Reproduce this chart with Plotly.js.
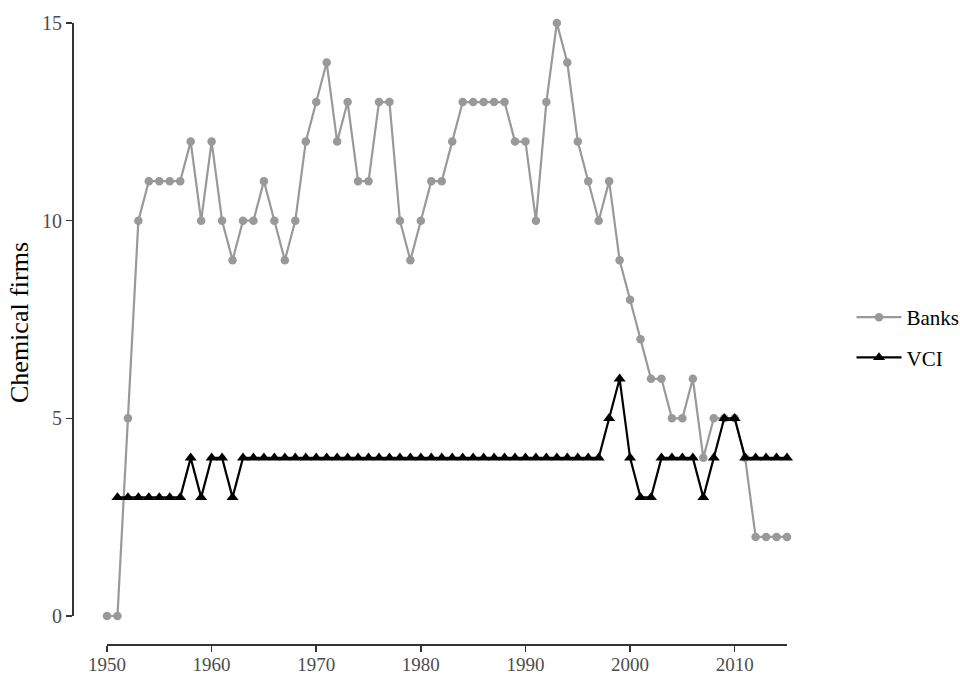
<!DOCTYPE html>
<html>
<head>
<meta charset="utf-8">
<script src="https://cdn.plot.ly/plotly-3.0.1.min.js"></script>
<style>html,body{margin:0;padding:0;background:#fff;}#chart{width:960px;height:675px;}</style>
</head>
<body>
<div id="chart"></div>
<script>
const years = [1950,1951,1952,1953,1954,1955,1956,1957,1958,1959,1960,1961,1962,1963,1964,1965,1966,1967,1968,1969,1970,1971,1972,1973,1974,1975,1976,1977,1978,1979,1980,1981,1982,1983,1984,1985,1986,1987,1988,1989,1990,1991,1992,1993,1994,1995,1996,1997,1998,1999,2000,2001,2002,2003,2004,2005,2006,2007,2008,2009,2010,2011,2012,2013,2014,2015];
const banks = [0,0,5,10,11,11,11,11,12,10,12,10,9,10,10,11,10,9,10,12,13,14,12,13,11,11,13,13,10,9,10,11,11,12,13,13,13,13,13,12,12,10,13,15,14,12,11,10,11,9,8,7,6,6,5,5,6,4,5,5,5,4,2,2,2,2];
const vciYears = years.slice(1);
const vci = [3,3,3,3,3,3,3,4,3,4,4,3,4,4,4,4,4,4,4,4,4,4,4,4,4,4,4,4,4,4,4,4,4,4,4,4,4,4,4,4,4,4,4,4,4,4,4,5,6,4,3,3,4,4,4,4,3,4,5,5,4,4,4,4,4];
const yTicks = [0,5,10,15];
const xTicks = [1950,1960,1970,1980,1990,2000,2010];

const serif = "Liberation Serif, Times New Roman, serif";
const traces = [
  {x: years, y: banks, name: "Banks", type: "scatter", mode: "lines+markers",
   line: {color: "#999999", width: 2.2}, marker: {symbol: "circle", size: 8.5, color: "#999999"},
   legendgroup: "a"},
  {x: vciYears, y: vci, name: "VCI", type: "scatter", mode: "lines+markers",
   line: {color: "#000000", width: 2.2}, marker: {symbol: "triangle-up", size: 10.5, color: "#000000"},
   legendgroup: "b"}
];
const xmin = Math.min(...years), xmax = Math.max(...years);
const layout = {
  width: 960, height: 675,
  margin: {l: 73, r: 139, t: 0, b: 30, autoexpand: false},
  paper_bgcolor: "#ffffff", plot_bgcolor: "#ffffff",
  font: {family: serif, color: "#000"},
  xaxis: {range: [1946.75, 2018.25], showgrid: false, zeroline: false, showline: false,
    tickvals: xTicks, ticks: "outside", ticklen: 6, tickwidth: 1.5, tickcolor: "#333333",
    ticklabelstandoff: -4,
    tickfont: {family: serif, size: 19, color: "#4d4d4d"}},
  yaxis: {range: [-0.734, 15.582], showgrid: false, zeroline: false, showline: false,
    tickvals: yTicks, ticks: "outside", ticklen: 6, tickwidth: 1.5, tickcolor: "#333333",
    tickfont: {family: serif, size: 20, color: "#4d4d4d"},
    title: {text: "Chemical firms", font: {family: serif, size: 26, color: "#000"}, standoff: 5}},
  showlegend: true,
  legend: {xref: "container", yref: "container", x: 0.887, xanchor: "left", y: 0.5, yanchor: "middle",
    traceorder: "grouped", tracegroupgap: 10, itemwidth: 45,
    font: {family: serif, size: 21, color: "#000"}, bgcolor: "rgba(0,0,0,0)"},
  shapes: [
    {type: "line", xref: "x", yref: "paper", x0: xmin, x1: xmax, y0: 0, y1: 0,
     line: {color: "#333333", width: 2}},
    {type: "line", xref: "paper", yref: "y", x0: 0, x1: 0, y0: Math.min(...yTicks), y1: Math.max(...yTicks),
     line: {color: "#333333", width: 2}}
  ]
};
Plotly.newPlot("chart", traces, layout, {displayModeBar: false, staticPlot: true});
</script>
</body>
</html>
